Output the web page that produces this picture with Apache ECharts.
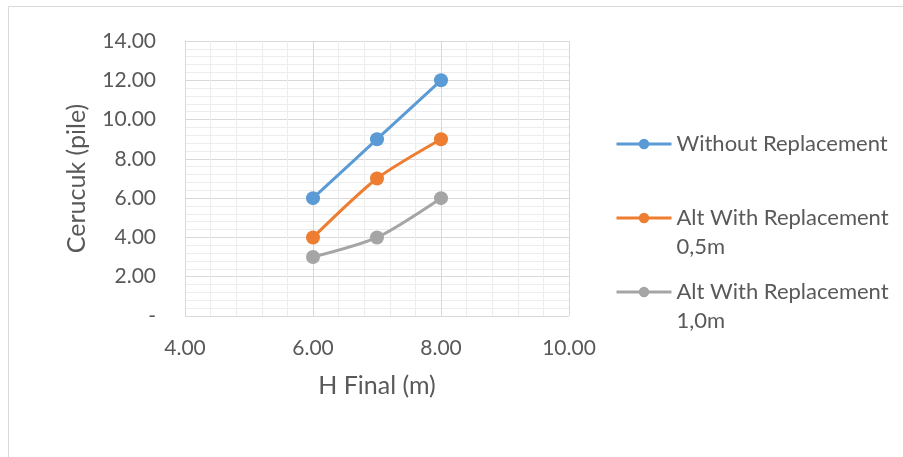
<!DOCTYPE html>
<html><head><meta charset="utf-8">
<script src="https://cdn.jsdelivr.net/npm/echarts@6/dist/echarts.min.js"></script>
<style>html,body{margin:0;padding:0;background:#fff}#c{width:903px;height:457px}</style>
</head><body><div id="c"></div>
<script>
var hFinal = [6, 7, 8];
var withoutReplacement = [6, 9, 12];
var altReplacement05 = [4, 7, 9];
var altReplacement10 = [3, 4, 6];
var seriesNames = ['Without Replacement', 'Alt With Replacement 0,5m', 'Alt With Replacement 1,0m'];
var legendLabels = ['Without Replacement', ' \nAlt With Replacement\n0,5m', ' \nAlt With Replacement\n1,0m'];
var colors = ['#5B9BD5', '#ED7D31', '#A5A5A5'];
var FONT = 'Lato';
var TXT = '#595959';

function pairs(ys){ return hFinal.map(function(x,i){ return [x, ys[i]]; }); }
var allY = [withoutReplacement, altReplacement05, altReplacement10];

var chart = echarts.init(document.getElementById('c'), null, {renderer:'canvas'});
var legendTops = [124.5, 169.5, 243.5];
var option = {
  animation: false,
  backgroundColor: '#fff',
  graphic: [{type:'rect', shape:{x:8.5, y:6.5, width:1000, height:1000}, style:{fill:'none', stroke:'#D9D9D9', lineWidth:1}, silent:true}],
  grid: {left:185, right:334, top:41, bottom:141, containLabel:false},
  xAxis: {
    type:'value', min:4, max:10, interval:2,
    name:'H Final (m)', nameLocation:'middle', nameGap:57,
    nameTextStyle:{fontFamily:FONT, fontSize:25, color:TXT},
    axisLine:{show:false}, axisTick:{show:false},
    axisLabel:{fontFamily:FONT, fontSize:21, color:TXT, margin:22, formatter:function(v){return v.toFixed(2);}},
    splitLine:{show:true, lineStyle:{color:'#D9D9D9', width:1}},
    minorTick:{show:false, splitNumber:5},
    minorSplitLine:{show:true, lineStyle:{color:'#EDEDED', width:1}}
  },
  yAxis: {
    type:'value', min:0, max:14, interval:2,
    name:'Cerucuk (pile)', nameLocation:'middle', nameGap:96,
    nameTextStyle:{fontFamily:FONT, fontSize:25, color:TXT},
    axisLine:{show:true, lineStyle:{color:'#D9D9D9'}}, axisTick:{show:false},
    axisLabel:{fontFamily:FONT, fontSize:21, color:TXT, margin:29, formatter:function(v){return v===0?'-':v.toFixed(2);}},
    splitLine:{show:true, lineStyle:{color:'#D9D9D9', width:1}},
    minorTick:{show:false, splitNumber:5},
    minorSplitLine:{show:true, lineStyle:{color:'#EDEDED', width:1}}
  },
  legend: seriesNames.map(function(n,i){
    return {
      data:[n], left:610, top:legendTops[i], orient:'vertical',
      itemWidth:55, itemHeight:13, itemGap:0,
      lineStyle:{width:3},
      formatter:function(){ return legendLabels[i]; },
      textStyle:{fontFamily:FONT, fontSize:22, color:TXT, lineHeight:29}
    };
  }),
  series: seriesNames.map(function(n,i){
    return {
      name:n, type:'line', data:pairs(allY[i]), smooth:0.25,
      symbol:'circle', symbolSize:14, showSymbol:true,
      itemStyle:{color:colors[i]}, lineStyle:{color:colors[i], width:3}
    };
  })
};
chart.setOption(option);
</script></body></html>
